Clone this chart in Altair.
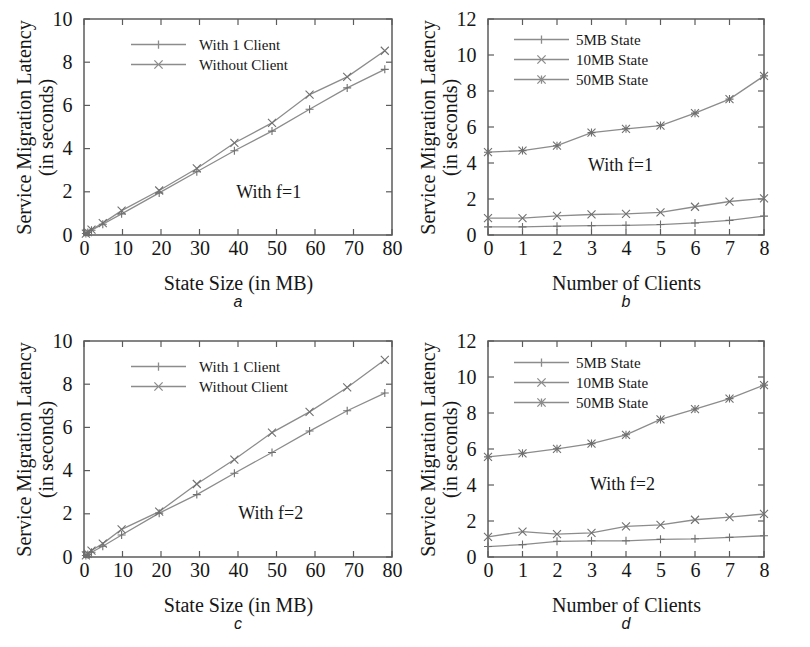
import altair as alt
import pandas as pd

# ---------------- data ----------------
STATE_MB = [0.49, 0.98, 1.95, 4.88, 9.77, 19.53, 29.30, 39.06, 48.83, 58.59, 68.36, 78.13]
A_WITH_1_CLIENT = [0.07, 0.12, 0.22, 0.50, 0.98, 1.95, 2.93, 3.90, 4.81, 5.82, 6.81, 7.67]
A_WITHOUT_CLIENT = [0.06, 0.13, 0.25, 0.55, 1.13, 2.06, 3.08, 4.26, 5.19, 6.50, 7.32, 8.53]
C_WITH_1_CLIENT = [0.07, 0.12, 0.22, 0.50, 1.02, 2.03, 2.89, 3.88, 4.84, 5.83, 6.77, 7.59]
C_WITHOUT_CLIENT = [0.08, 0.15, 0.30, 0.62, 1.28, 2.10, 3.38, 4.51, 5.76, 6.72, 7.85, 9.13]

CLIENTS = [0, 1, 2, 3, 4, 5, 6, 7, 8]
B_5MB = [0.45, 0.45, 0.49, 0.52, 0.54, 0.58, 0.67, 0.81, 1.05]
B_10MB = [0.94, 0.94, 1.06, 1.14, 1.17, 1.26, 1.57, 1.86, 2.04]
B_50MB = [4.60, 4.69, 4.96, 5.69, 5.90, 6.08, 6.77, 7.55, 8.84]
D_5MB = [0.58, 0.69, 0.87, 0.90, 0.90, 0.98, 1.01, 1.09, 1.18]
D_10MB = [1.12, 1.41, 1.27, 1.34, 1.70, 1.78, 2.07, 2.21, 2.39]
D_50MB = [5.56, 5.76, 6.01, 6.30, 6.79, 7.64, 8.22, 8.80, 9.55]

SIZE_SERIES = ["With 1 Client", "Without Client"]
CLIENT_SERIES = ["5MB State", "10MB State", "50MB State"]

X_TICKS_SIZE = [0, 10, 20, 30, 40, 50, 60, 70, 80]
Y_TICKS_SIZE = [0, 2, 4, 6, 8, 10]
X_TICKS_CLIENTS = [0, 1, 2, 3, 4, 5, 6, 7, 8]
Y_TICKS_CLIENTS = [0, 2, 4, 6, 8, 10, 12]

Y_TITLE = ["Service Migration Latency", "(in seconds)"]

# ---------------- style ----------------
SERIF = "Liberation Serif"
SANS = "Liberation Sans"
LINE = "#8c8c8c"
MARK = "#707070"
FRAME = "#5c5c5c"
TEXT = "#161616"

PLUS = "M-1,0L1,0M0,-1L0,1"
CROSS = "M-1,-1L1,1M-1,1L1,-1"
STAR = PLUS + CROSS
LEG_PLUS = "M-5,0L5,0M0,-0.75L0,0.75"
LEG_CROSS = "M-5,0L5,0M-0.75,-0.75L0.75,0.75M-0.75,0.75L0.75,-0.75"
LEG_STAR = LEG_CROSS + "M0,-0.75L0,0.75"


def panel(xs, names, series, plot_shapes, leg_shapes, xdom, xticks, ydom, yticks,
          xtitle, note, note_x, note_y, caption, leg_x, leg_y, leg_off, width, height):
    rows = []
    for name, vals in zip(names, series):
        for xv, yv in zip(xs, vals):
            rows.append({"x": xv, "y": yv, "series": name})
    df = pd.DataFrame(rows)

    X = alt.X("x:Q", scale=alt.Scale(domain=xdom, nice=False, zero=False),
              axis=alt.Axis(values=xticks, title=xtitle, labelFlush=False, labelOverlap=False,
                            labelPadding=3, titlePadding=15, format="d"))
    Y = alt.Y("y:Q", scale=alt.Scale(domain=ydom, nice=False, zero=False),
              axis=alt.Axis(values=yticks, title=Y_TITLE, labelFlush=False, labelOverlap=False,
                            labelPadding=12, titlePadding=-4, titleLineHeight=22, format="d"))

    lines = alt.Chart(df).mark_line(color=LINE, strokeWidth=1.3).encode(
        x=X, y=Y, detail="series:N")
    pts = alt.Chart(df).mark_point(filled=False, color=MARK, size=64, strokeWidth=1.1, opacity=1).encode(
        x=X, y=Y,
        shape=alt.Shape("series:N", scale=alt.Scale(domain=names, range=plot_shapes), legend=None))
    leg = alt.Chart(df).mark_point(filled=False, color=LINE, size=121, opacity=0).encode(
        x=X, y=Y,
        shape=alt.Shape("series:N", scale=alt.Scale(domain=names, range=leg_shapes),
                        legend=alt.Legend(title=None, orient="none", legendX=leg_x, legendY=leg_y,
                                          symbolOpacity=1, symbolStrokeColor=LINE,
                                          symbolStrokeWidth=1.3, symbolSize=121,
                                          symbolFillColor="transparent",
                                          labelFont=SERIF, labelFontSize=15, labelColor=TEXT,
                                          labelOffset=leg_off, rowPadding=4, padding=0)))

    xt = pd.DataFrame({"x": xticks})
    yt = pd.DataFrame({"y": yticks})
    tb = alt.Chart(xt).mark_rule(color=FRAME, strokeWidth=1.2).encode(
        x=X, y=alt.value(height), y2=alt.value(height - 6))
    tt = alt.Chart(xt).mark_rule(color=FRAME, strokeWidth=1.2).encode(
        x=X, y=alt.value(0), y2=alt.value(6))
    tl = alt.Chart(yt).mark_rule(color=FRAME, strokeWidth=1.2).encode(
        y=Y, x=alt.value(0), x2=alt.value(6))
    tr = alt.Chart(yt).mark_rule(color=FRAME, strokeWidth=1.2).encode(
        y=Y, x=alt.value(width), x2=alt.value(width - 6))

    nd = pd.DataFrame({"x": [note_x], "y": [note_y], "t": [note]})
    txt = alt.Chart(nd).mark_text(font=SERIF, fontSize=18, color=TEXT).encode(
        x=X, y=Y, text="t:N")

    return alt.layer(tb, tt, tl, tr, lines, pts, leg, txt).resolve_scale(
        shape="independent"
    ).properties(
        width=width, height=height,
        title=alt.TitleParams(caption, orient="bottom", font=SANS, fontStyle="italic",
                              fontSize=16, fontWeight="normal", color=TEXT, offset=1)
    )


pa = panel(STATE_MB, SIZE_SERIES, [A_WITH_1_CLIENT, A_WITHOUT_CLIENT], [PLUS, CROSS],
           [LEG_PLUS, LEG_CROSS], [0, 80], X_TICKS_SIZE, [0, 10], Y_TICKS_SIZE,
           "State Size (in MB)", "With f=1", 48, 1.95, "a", 67, 18, 33, 308, 216)
pb = panel(CLIENTS, CLIENT_SERIES, [B_5MB, B_10MB, B_50MB], [PLUS, CROSS, STAR],
           [LEG_PLUS, LEG_CROSS, LEG_STAR], [0, 8], X_TICKS_CLIENTS, [0, 12], Y_TICKS_CLIENTS,
           "Number of Clients", "With f=1", 3.84, 3.85, "b", 46, 13, 27, 276, 216)
pc = panel(STATE_MB, SIZE_SERIES, [C_WITH_1_CLIENT, C_WITHOUT_CLIENT], [PLUS, CROSS],
           [LEG_PLUS, LEG_CROSS], [0, 80], X_TICKS_SIZE, [0, 10], Y_TICKS_SIZE,
           "State Size (in MB)", "With f=2", 48.5, 1.98, "c", 67, 18, 33, 308, 216)
pd_ = panel(CLIENTS, CLIENT_SERIES, [D_5MB, D_10MB, D_50MB], [PLUS, CROSS, STAR],
            [LEG_PLUS, LEG_CROSS, LEG_STAR], [0, 8], X_TICKS_CLIENTS, [0, 12], Y_TICKS_CLIENTS,
            "Number of Clients", "With f=2", 3.9, 4.0, "d", 46, 14, 27, 276, 216)

chart = alt.concat(
    pa, pb, pc, pd_, columns=2,
    spacing={"row": 106, "column": 96},
    bounds="flush",
).properties(
    padding={"left": 5, "top": 0, "right": 0, "bottom": 0}
).configure(
    background="white"
).configure_view(
    stroke=FRAME, strokeWidth=1.5
).configure_axis(
    domain=False, ticks=False, tickSize=0, grid=False,
    labelFont=SERIF, labelFontSize=20, labelColor=TEXT,
    titleFont=SERIF, titleFontSize=20, titleFontWeight="normal", titleColor=TEXT
)

chart.save("out.html", embed_options={"renderer": "svg", "actions": False})
